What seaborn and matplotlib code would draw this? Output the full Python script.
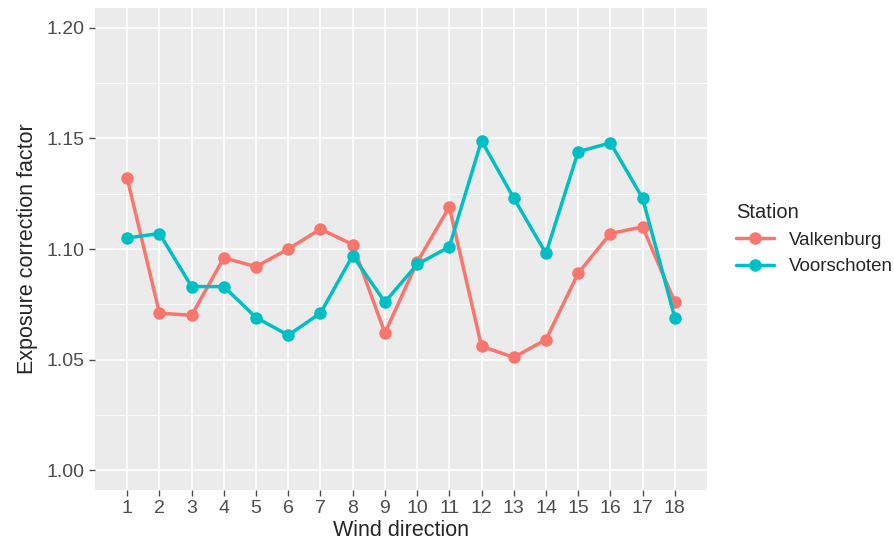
import matplotlib
matplotlib.use("Agg")
import matplotlib.pyplot as plt
import seaborn as sns
import pandas as pd
from matplotlib.ticker import MultipleLocator

directions = list(range(1, 19))
valkenburg = [1.132, 1.071, 1.070, 1.096, 1.092, 1.100, 1.109, 1.102, 1.062,
              1.094, 1.119, 1.056, 1.051, 1.059, 1.089, 1.107, 1.110, 1.076]
voorschoten = [1.105, 1.107, 1.083, 1.083, 1.069, 1.061, 1.071, 1.097, 1.076,
               1.093, 1.101, 1.149, 1.123, 1.098, 1.144, 1.148, 1.123, 1.069]

df = pd.DataFrame({
    "Wind direction": directions * 2,
    "factor": valkenburg + voorschoten,
    "Station": ["Valkenburg"] * 18 + ["Voorschoten"] * 18,
})

sns.set_style("darkgrid", {"axes.facecolor": "#EBEBEB", "grid.color": "white"})
plt.rcParams['font.family'] = ['Liberation Sans', 'DejaVu Sans']

fig = plt.figure(figsize=(8.94, 5.49), dpi=100)
ax = fig.add_axes([95 / 894, 59 / 549, 612 / 894, 482 / 549])
palette = {"Valkenburg": "#F8766D", "Voorschoten": "#00BFC4"}
sns.lineplot(data=df, x="Wind direction", y="factor", hue="Station",
             palette=palette, marker="o", markersize=9, markeredgewidth=0,
             linewidth=2.5, ax=ax)

ax.set_xlim(0, 19)
ax.set_ylim(0.991, 1.209)
ax.set_xticks(directions)
ax.yaxis.set_major_locator(MultipleLocator(0.05))
ax.yaxis.set_minor_locator(MultipleLocator(0.025))
ax.xaxis.grid(True, linewidth=1.2)
ax.yaxis.grid(True, which="major", linewidth=1.2)
ax.yaxis.grid(True, which="minor", linewidth=0.6)
ax.set_yticklabels([f"{v:.2f}" for v in ax.get_yticks()])
ax.tick_params(axis="both", labelsize=14, colors="#4D4D4D", length=4, width=1, left=True, bottom=True)
ax.tick_params(axis="both", which="minor", left=False)
ax.set_xlabel("Wind direction", fontsize=15.5, labelpad=2)
ax.set_ylabel("Exposure correction factor", fontsize=15.5, labelpad=6)
for s in ax.spines.values():
    s.set_visible(False)

leg = ax.legend(title="Station", loc="center left", bbox_to_anchor=(1.02, 0.52),
                frameon=False, fontsize=13.5, title_fontsize=14.5, alignment="left")

fig.savefig("out.png", dpi=100)
